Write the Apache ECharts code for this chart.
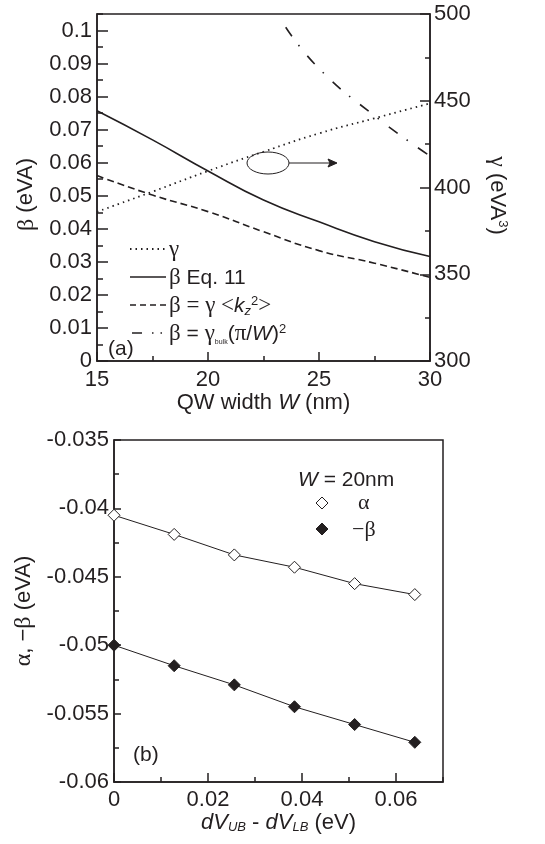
<!DOCTYPE html>
<html>
<head>
<meta charset="utf-8">
<script src="https://cdn.jsdelivr.net/npm/echarts@6/dist/echarts.min.js"></script>
<style>
  html, body { margin: 0; padding: 0; background: #fff; }
  #main_charts { width: 545px; height: 844px; }
</style>
</head>
<body>
<div id="main_charts"></div>
<script>
// panel (a): QW width dependence
var W = [15, 17.5, 20, 22.5, 25, 27.5, 30];
var gammaVals = [386, 397.6, 409.5, 420.6, 431.2, 439.9, 448.5];
var betaEq11 = [0.0757, 0.0669, 0.0575, 0.0487, 0.0421, 0.0361, 0.0316];
var betaKz = [0.0561, 0.0502, 0.0452, 0.0391, 0.0334, 0.0296, 0.0253];
var Wbulk = [23.5, 25, 27.5, 29.9];
var betaBulk = [0.101, 0.0885, 0.0742, 0.0625];

// panel (b): W = 20nm, vs dV_UB - dV_LB
var dV = [0, 0.0128, 0.0256, 0.0384, 0.0512, 0.064];
var alphaVals = [-0.0405, -0.0419, -0.0434, -0.0443, -0.0455, -0.0463];
var negBeta = [-0.0500, -0.0515, -0.0529, -0.0545, -0.0558, -0.0571];

var ink = '#231f20';
var sans = 'Liberation Sans';
var serif = 'Liberation Serif';

function pairs(xs, ys) {
  var out = [];
  for (var i = 0; i < xs.length; i++) out.push([xs[i], ys[i]]);
  return out;
}

function rich(size) {
  return {
    g: { fontFamily: serif, fontSize: size + 2, color: ink },
    i: { fontFamily: sans, fontStyle: 'italic', fontSize: size, color: ink },
    sub: { fontFamily: sans, fontStyle: 'italic', fontSize: Math.round(size * 0.6), verticalAlign: 'bottom', color: ink },
    sup: { fontFamily: sans, fontSize: Math.round(size * 0.6), verticalAlign: 'top', color: ink },
    tiny: { fontFamily: sans, fontSize: 7, verticalAlign: 'bottom', color: ink }
  };
}

var labelStyle = { color: ink, fontFamily: sans, fontSize: 22 };
var nameStyle = { color: ink, fontFamily: sans, fontSize: 22, rich: rich(22) };
var axLine = { show: true, lineStyle: { color: ink, width: 1.5 } };

var myChart = echarts.init(document.getElementById('main_charts'));

var option = {
  animation: false,
  backgroundColor: '#fff',
  grid: [
    { left: 97, top: 14, width: 333, height: 347, show: true, borderColor: ink, borderWidth: 1.5 },
    { left: 114, top: 440, width: 329, height: 342, show: true, borderColor: ink, borderWidth: 1.5 }
  ],
  xAxis: [
    { gridIndex: 0, type: 'value', position: 'bottom', min: 15, max: 30, interval: 5,
      axisLine: axLine, splitLine: { show: false },
      axisTick: { inside: true, length: 9, lineStyle: { color: ink, width: 1.5 } },
      axisLabel: Object.assign({ margin: 8 }, labelStyle),
      name: 'QW width {i|W} (nm)', nameLocation: 'middle', nameGap: 27, nameTextStyle: nameStyle },
    { gridIndex: 0, type: 'value', position: 'bottom', min: 15, max: 30, interval: 2.5,
      axisLine: { show: false }, splitLine: { show: false }, axisLabel: { show: false },
      axisTick: { inside: true, length: 5, lineStyle: { color: ink, width: 1.5 } } },
    { gridIndex: 1, type: 'value', position: 'bottom', min: 0, max: 0.07, interval: 0.02,
      axisLine: axLine, splitLine: { show: false },
      axisTick: { inside: true, length: 9, lineStyle: { color: ink, width: 1.5 } },
      axisLabel: Object.assign({ margin: 7, showMaxLabel: false }, labelStyle),
      name: '{i|dV}{sub|UB} - {i|dV}{sub|LB} (eV)', nameLocation: 'middle', nameGap: 26, nameTextStyle: nameStyle },
    { gridIndex: 1, type: 'value', position: 'bottom', min: 0, max: 0.07, interval: 0.01,
      axisLine: { show: false }, splitLine: { show: false }, axisLabel: { show: false },
      axisTick: { inside: true, length: 5, lineStyle: { color: ink, width: 1.5 } } }
  ],
  yAxis: [
    { gridIndex: 0, type: 'value', position: 'left', min: 0, max: 0.105, interval: 0.01,
      axisLine: axLine, splitLine: { show: false },
      axisTick: { inside: true, length: 11, lineStyle: { color: ink, width: 1.5 } },
      axisLabel: Object.assign({ margin: 5, showMaxLabel: false }, labelStyle),
      name: '{g|β} (eVA)', nameLocation: 'middle', nameRotate: 90, nameGap: 57,
      nameTextStyle: Object.assign({ padding: [0, 14, 0, 0] }, nameStyle) },
    { gridIndex: 0, type: 'value', position: 'left', min: 0, max: 0.105, interval: 0.005,
      axisLine: { show: false }, splitLine: { show: false }, axisLabel: { show: false },
      axisTick: { inside: true, length: 6, lineStyle: { color: ink, width: 1.5 } } },
    { gridIndex: 0, type: 'value', position: 'right', min: 300, max: 500, interval: 50,
      axisLine: axLine, splitLine: { show: false },
      axisTick: { inside: true, length: 10, lineStyle: { color: ink, width: 1.5 } },
      axisLabel: Object.assign({ margin: 4 }, labelStyle),
      name: '{g|γ} (eVA{sup|3})', nameLocation: 'middle', nameRotate: -90, nameGap: 55,
      nameTextStyle: Object.assign({ padding: [0, 0, 0, 16] }, nameStyle) },
    { gridIndex: 0, type: 'value', position: 'right', min: 300, max: 500, interval: 25,
      axisLine: { show: false }, splitLine: { show: false }, axisLabel: { show: false },
      axisTick: { inside: true, length: 5, lineStyle: { color: ink, width: 1.5 } } },
    { gridIndex: 1, type: 'value', position: 'left', min: -0.06, max: -0.035, interval: 0.005,
      axisLine: axLine, splitLine: { show: false },
      axisTick: { inside: true, length: 7, lineStyle: { color: ink, width: 1.5 } },
      axisLabel: Object.assign({ margin: 5 }, labelStyle),
      name: '{g|α}, −{g|β} (eVA)', nameLocation: 'middle', nameRotate: 90, nameGap: 72, nameTextStyle: nameStyle },
    { gridIndex: 1, type: 'value', position: 'left', min: -0.06, max: -0.035, interval: 0.0025,
      axisLine: { show: false }, splitLine: { show: false }, axisLabel: { show: false },
      axisTick: { inside: true, length: 5, lineStyle: { color: ink, width: 1.5 } } }
  ],
  series: [
    { name: 'γ', type: 'line', xAxisIndex: 0, yAxisIndex: 2, smooth: true, showSymbol: false,
      data: pairs(W, gammaVals), lineStyle: { color: ink, width: 1.8, type: [1.5, 4] } },
    { name: 'β Eq. 11', type: 'line', xAxisIndex: 0, yAxisIndex: 0, smooth: true, showSymbol: false,
      data: pairs(W, betaEq11), lineStyle: { color: ink, width: 1.6 } },
    { name: 'β = γ <kz2>', type: 'line', xAxisIndex: 0, yAxisIndex: 0, smooth: true, showSymbol: false,
      data: pairs(W, betaKz), lineStyle: { color: ink, width: 1.6, type: [7, 4] } },
    { name: 'β bulk', type: 'line', xAxisIndex: 0, yAxisIndex: 0, smooth: true, showSymbol: false,
      data: pairs(Wbulk, betaBulk), lineStyle: { color: ink, width: 1.6, type: [11, 11, 1.5, 12.5] } },
    { name: 'α', type: 'line', xAxisIndex: 2, yAxisIndex: 4, symbol: 'diamond', symbolSize: 12,
      data: pairs(dV, alphaVals), lineStyle: { color: ink, width: 1 },
      itemStyle: { color: '#fff', borderColor: ink, borderWidth: 1 } },
    { name: '−β', type: 'line', xAxisIndex: 2, yAxisIndex: 4, symbol: 'diamond', symbolSize: 12,
      data: pairs(dV, negBeta), lineStyle: { color: ink, width: 1 },
      itemStyle: { color: ink, borderColor: ink, borderWidth: 1 } }
  ],
  graphic: [
    // legend of panel (a)
    { type: 'line', shape: { x1: 130, y1: 249, x2: 166, y2: 249 }, style: { stroke: ink, lineWidth: 1.8, lineDash: [1.5, 4] } },
    { type: 'line', shape: { x1: 130, y1: 277, x2: 166, y2: 277 }, style: { stroke: ink, lineWidth: 1.6 } },
    { type: 'line', shape: { x1: 130, y1: 305, x2: 166, y2: 305 }, style: { stroke: ink, lineWidth: 1.6, lineDash: [6, 4] } },
    { type: 'line', shape: { x1: 132, y1: 333, x2: 166, y2: 333 }, style: { stroke: ink, lineWidth: 1.6, lineDash: [10, 10, 1.5, 7, 1.5, 7] } },
    { type: 'text', x: 169, y: 250, style: { text: '{g|γ}', rich: rich(21), fill: ink, font: '21px ' + sans, verticalAlign: 'middle' } },
    { type: 'text', x: 169, y: 278, style: { text: '{g|β} Eq. 11', rich: rich(21), fill: ink, font: '21px ' + sans, verticalAlign: 'middle' } },
    { type: 'text', x: 169, y: 306, style: { text: '{g|β = γ <}{i|k}{sub|z}{sup|2}{g|>}', rich: rich(21), fill: ink, font: '21px ' + sans, verticalAlign: 'middle' } },
    { type: 'text', x: 169, y: 334, style: { text: '{g|β} = {g|γ}{tiny|bulk}({g|π}/{i|W}){sup|2}', rich: rich(21), fill: ink, font: '21px ' + sans, verticalAlign: 'middle' } },
    { type: 'text', x: 108, y: 349, style: { text: '(a)', fill: ink, font: '21px ' + sans, verticalAlign: 'middle' } },
    // ellipse and arrow pointing to right axis
    { type: 'ellipse', shape: { cx: 268, cy: 163, rx: 21, ry: 11 }, style: { fill: 'none', stroke: ink, lineWidth: 1 } },
    { type: 'line', shape: { x1: 289, y1: 163, x2: 336, y2: 163 }, style: { stroke: ink, lineWidth: 1.2 } },
    { type: 'polygon', shape: { points: [[337, 163], [328, 159], [330, 163], [328, 167]] }, style: { fill: ink, stroke: ink, lineWidth: 1 } },
    // legend of panel (b)
    { type: 'text', x: 298, y: 480, style: { text: '{i|W} = 20nm', rich: rich(21), fill: ink, font: '21px ' + sans, verticalAlign: 'middle' } },
    { type: 'polygon', shape: { points: [[322, 497], [328, 503], [322, 509], [316, 503]] }, style: { fill: '#fff', stroke: ink, lineWidth: 1 } },
    { type: 'polygon', shape: { points: [[322, 523], [328, 529], [322, 535], [316, 529]] }, style: { fill: ink, stroke: ink, lineWidth: 1 } },
    { type: 'text', x: 358, y: 503, style: { text: 'α', fill: ink, font: '22px ' + serif, verticalAlign: 'middle' } },
    { type: 'text', x: 352, y: 530, style: { text: '−β', fill: ink, font: '22px ' + serif, verticalAlign: 'middle' } },
    { type: 'text', x: 133, y: 755, style: { text: '(b)', fill: ink, font: '21px ' + sans, verticalAlign: 'middle' } }
  ]
};

myChart.setOption(option);
</script>
</body>
</html>
